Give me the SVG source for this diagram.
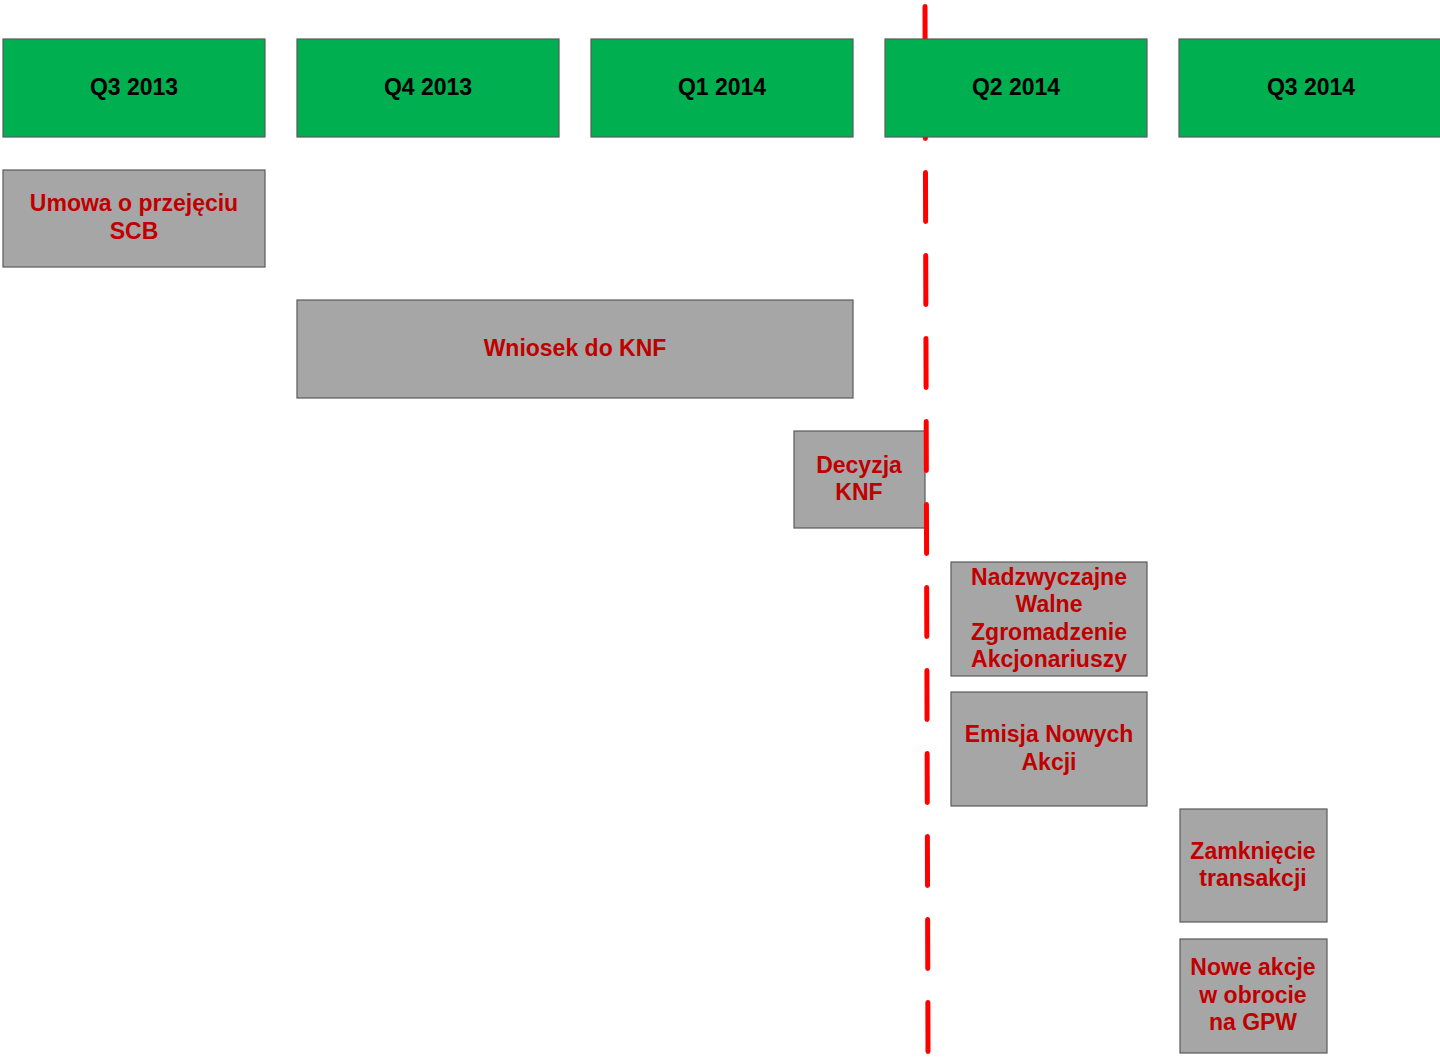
<svg xmlns="http://www.w3.org/2000/svg" width="1440" height="1058" viewBox="0 0 1440 1058">
<style>
.hdr{fill:#00B050;stroke:#5A5A5A;stroke-width:1.2}
.box{fill:#A6A6A6;stroke:#5A5A5A;stroke-width:1.2}
.ht{font-family:"Liberation Sans",Arial,sans-serif;font-weight:bold;font-size:23px;fill:#000;text-anchor:middle}
.bt{font-family:"Liberation Sans",Arial,sans-serif;font-weight:bold;font-size:23px;fill:#C00000;text-anchor:middle}
.now{fill:none;stroke:#FF0000;stroke-width:5;stroke-linecap:round;stroke-dasharray:49 34}
</style>
<rect width="1440" height="1058" fill="#fff"/>
<g id="umowa"><rect class="box" x="3" y="170" width="262" height="97"/><text class="bt" x="134" y="211">Umowa o przejęciu</text><text class="bt" x="134" y="239">SCB</text></g>
<g id="wniosek"><rect class="box" x="297" y="300" width="556" height="98"/><text class="bt" x="575" y="356">Wniosek do KNF</text></g>
<g id="decyzja"><rect class="box" x="794" y="431" width="131" height="97"/><text class="bt" x="859" y="473">Decyzja</text><text class="bt" x="859" y="500">KNF</text></g>
<g id="nwza"><rect class="box" x="951" y="562" width="196" height="114"/><text class="bt" x="1049" y="585">Nadzwyczajne</text><text class="bt" x="1049" y="612">Walne</text><text class="bt" x="1049" y="640">Zgromadzenie</text><text class="bt" x="1049" y="667">Akcjonariuszy</text></g>
<g id="emisja"><rect class="box" x="951" y="692" width="196" height="114"/><text class="bt" x="1049" y="742">Emisja Nowych</text><text class="bt" x="1049" y="770">Akcji</text></g>
<g id="zamkniecie"><rect class="box" x="1180" y="809" width="147" height="113"/><text class="bt" x="1253" y="859">Zamknięcie</text><text class="bt" x="1253" y="886">transakcji</text></g>
<g id="nowe"><rect class="box" x="1180" y="939" width="147" height="114"/><text class="bt" x="1253" y="975">Nowe akcje</text><text class="bt" x="1253" y="1003">w obrocie</text><text class="bt" x="1253" y="1030">na GPW</text></g>
<g id="connectors"><line class="now" x1="925" y1="6.5" x2="928" y2="1052"/></g>
<g id="q3-2013"><rect class="hdr" x="3" y="39" width="262" height="98"/><text class="ht" x="134" y="95">Q3 2013</text></g>
<g id="q4-2013"><rect class="hdr" x="297" y="39" width="262" height="98"/><text class="ht" x="428" y="95">Q4 2013</text></g>
<g id="q1-2014"><rect class="hdr" x="591" y="39" width="262" height="98"/><text class="ht" x="722" y="95">Q1 2014</text></g>
<g id="q2-2014"><rect class="hdr" x="885" y="39" width="262" height="98"/><text class="ht" x="1016" y="95">Q2 2014</text></g>
<g id="q3-2014"><rect class="hdr" x="1179" y="39" width="262" height="98"/><text class="ht" x="1311" y="95">Q3 2014</text></g>
</svg>
